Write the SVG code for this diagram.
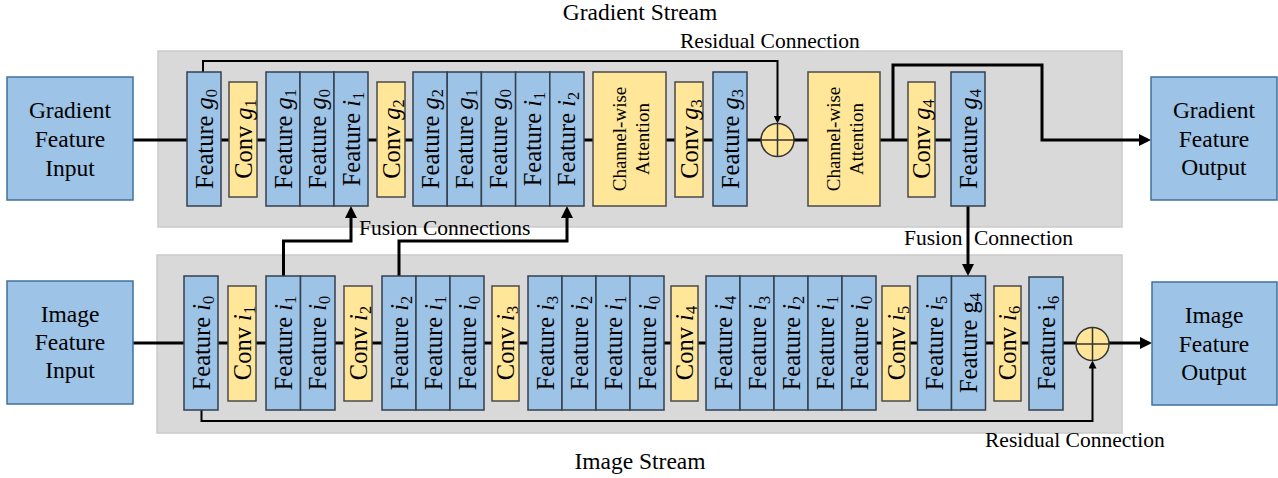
<svg xmlns="http://www.w3.org/2000/svg" width="1278" height="478" viewBox="0 0 1278 478">
  <style>
    text { font-family: "Liberation Serif", "Times New Roman", serif; fill: #000; }
    .panel { fill: #d9d9d9; stroke: #cacaca; stroke-width: 1.5; }
    .io { fill: #9dc3e6; stroke: #41719c; stroke-width: 1.5; }
    .feat { fill: #9dc3e6; stroke: #34404e; stroke-width: 1.5; }
    .conv { fill: #ffe699; stroke: #4a4a4a; stroke-width: 1.5; }
    .sum { fill: #ffe699; stroke: #333; stroke-width: 1.5; }
    .main { fill: none; stroke: #000; stroke-width: 3; }
    .res { fill: none; stroke: #000; stroke-width: 2; }
    .io-t { font-size: 23.5px; text-anchor: middle; }
    .lbl { font-size: 21.5px; }
    .stream { font-size: 23.5px; text-anchor: middle; }
    .bt { font-size: 24.5px; text-anchor: middle; }
    .ca { font-size: 19px; text-anchor: middle; }
    .it { font-style: italic; }
    .sub { font-size: 16.5px; }
  </style>
  <defs>
    <marker id="ah" viewBox="0 0 12 12" markerWidth="12" markerHeight="12" markerUnits="userSpaceOnUse" refX="2" refY="6" orient="auto">
      <path d="M0,0 L12,6 L0,12 z" fill="#000"/>
    </marker>
    <marker id="ahs" viewBox="0 0 8 8" markerWidth="8" markerHeight="8" markerUnits="userSpaceOnUse" refX="1" refY="4" orient="auto">
      <path d="M0,0 L8,4 L0,8 z" fill="#000"/>
    </marker>
  </defs>

  <!-- stream panels -->
  <g id="gradient-panel">
    <rect class="panel" x="158" y="51" width="964" height="176"/>
  </g>
  <g id="image-panel">
    <rect class="panel" x="157" y="255" width="965" height="178"/>
  </g>

  <!-- connectors -->
  <g id="connectors">
    <!-- gradient main path -->
    <path class="main" d="M133,140 H952"/>
    <path class="main" d="M893,140 V65 H1042 V140 H1141" marker-end="url(#ah)"/>
    <!-- gradient residual -->
    <path class="res" d="M203,72 V61 H777.5 V116.5" marker-end="url(#ahs)"/>
    <!-- image main path -->
    <path class="main" d="M133,343 H1142" marker-end="url(#ah)"/>
    <!-- image residual -->
    <path class="res" d="M201.5,410 V421 H1092.5 V367.5" marker-end="url(#ahs)"/>
    <!-- fusion connections -->
    <path class="main" d="M283.5,276 V241 H351 V216" marker-end="url(#ah)"/>
    <path class="main" d="M399,276 V241 H567 V216" marker-end="url(#ah)"/>
    <path class="main" d="M968,206 V266" marker-end="url(#ah)"/>
  </g>

  <!-- input / output nodes -->
  <g id="gradient-input">
    <rect class="io" x="7" y="77" width="126" height="123"/>
    <text class="io-t" x="70" y="118">Gradient</text>
    <text class="io-t" x="70" y="147">Feature</text>
    <text class="io-t" x="70" y="176">Input</text>
  </g>
  <g id="image-input">
    <rect class="io" x="7" y="281" width="126" height="123"/>
    <text class="io-t" x="70" y="322">Image</text>
    <text class="io-t" x="70" y="350">Feature</text>
    <text class="io-t" x="70" y="378">Input</text>
  </g>
  <g id="gradient-output">
    <rect class="io" x="1151" y="77" width="126" height="123"/>
    <text class="io-t" x="1214" y="118">Gradient</text>
    <text class="io-t" x="1214" y="147">Feature</text>
    <text class="io-t" x="1214" y="175">Output</text>
  </g>
  <g id="image-output">
    <rect class="io" x="1152" y="282" width="125" height="123"/>
    <text class="io-t" x="1214" y="323">Image</text>
    <text class="io-t" x="1214" y="352">Feature</text>
    <text class="io-t" x="1214" y="380">Output</text>
  </g>

  <!-- gradient stream blocks -->
  <g id="g-feat-g0">
    <rect class="feat" x="187" y="72" width="34" height="134"/>
    <text class="bt" transform="translate(204,139) rotate(-90)" y="8.5">Feature <tspan class="it">g</tspan><tspan class="sub" dy="4">0</tspan></text>
  </g>
  <g id="g-conv-g1">
    <rect class="conv" x="229" y="82" width="28" height="115"/>
    <text class="bt" transform="translate(243,139) rotate(-90)" y="8.5">Conv <tspan class="it">g</tspan><tspan class="sub" dy="4">1</tspan></text>
  </g>
  <g id="g-concat-1">
    <rect class="feat" x="266" y="72" width="34" height="134"/>
    <text class="bt" transform="translate(283,139) rotate(-90)" y="8.5">Feature <tspan class="it">g</tspan><tspan class="sub" dy="4">1</tspan></text>
    <rect class="feat" x="300" y="72" width="34" height="134"/>
    <text class="bt" transform="translate(317,139) rotate(-90)" y="8.5">Feature <tspan class="it">g</tspan><tspan class="sub" dy="4">0</tspan></text>
    <rect class="feat" x="334" y="72" width="34" height="134"/>
    <text class="bt" transform="translate(351,139) rotate(-90)" y="8.5">Feature <tspan class="it">i</tspan><tspan class="sub" dy="4">1</tspan></text>
  </g>
  <g id="g-conv-g2">
    <rect class="conv" x="377" y="82" width="28" height="115"/>
    <text class="bt" transform="translate(391,139) rotate(-90)" y="8.5">Conv <tspan class="it">g</tspan><tspan class="sub" dy="4">2</tspan></text>
  </g>
  <g id="g-concat-2">
    <rect class="feat" x="413" y="72" width="34.2" height="134"/>
    <text class="bt" transform="translate(430.1,139) rotate(-90)" y="8.5">Feature <tspan class="it">g</tspan><tspan class="sub" dy="4">2</tspan></text>
    <rect class="feat" x="447.2" y="72" width="34.2" height="134"/>
    <text class="bt" transform="translate(464.3,139) rotate(-90)" y="8.5">Feature <tspan class="it">g</tspan><tspan class="sub" dy="4">1</tspan></text>
    <rect class="feat" x="481.4" y="72" width="34.2" height="134"/>
    <text class="bt" transform="translate(498.5,139) rotate(-90)" y="8.5">Feature <tspan class="it">g</tspan><tspan class="sub" dy="4">0</tspan></text>
    <rect class="feat" x="515.6" y="72" width="34.2" height="134"/>
    <text class="bt" transform="translate(532.7,139) rotate(-90)" y="8.5">Feature <tspan class="it">i</tspan><tspan class="sub" dy="4">1</tspan></text>
    <rect class="feat" x="549.8" y="72" width="34.2" height="134"/>
    <text class="bt" transform="translate(566.9,139) rotate(-90)" y="8.5">Feature <tspan class="it">i</tspan><tspan class="sub" dy="4">2</tspan></text>
  </g>
  <g id="g-attention-1">
    <rect class="conv" x="593" y="72" width="73" height="134"/>
    <text class="ca" transform="translate(629.5,139) rotate(-90)" y="-4">Channel-wise</text>
    <text class="ca" transform="translate(629.5,139) rotate(-90)" y="19">Attention</text>
  </g>
  <g id="g-conv-g3">
    <rect class="conv" x="675" y="82" width="28" height="115"/>
    <text class="bt" transform="translate(689,139) rotate(-90)" y="8.5">Conv <tspan class="it">g</tspan><tspan class="sub" dy="4">3</tspan></text>
  </g>
  <g id="g-feat-g3">
    <rect class="feat" x="713" y="72" width="34" height="134"/>
    <text class="bt" transform="translate(730,139) rotate(-90)" y="8.5">Feature <tspan class="it">g</tspan><tspan class="sub" dy="4">3</tspan></text>
  </g>
  <g id="g-sum">
    <circle class="sum" cx="777.5" cy="140" r="16.5"/>
    <path d="M761,140 H794 M777.5,123.5 V156.5" stroke="#333" stroke-width="1.5"/>
  </g>
  <g id="g-attention-2">
    <rect class="conv" x="808" y="72" width="72" height="134"/>
    <text class="ca" transform="translate(844,139) rotate(-90)" y="-4">Channel-wise</text>
    <text class="ca" transform="translate(844,139) rotate(-90)" y="19">Attention</text>
  </g>
  <g id="g-conv-g4">
    <rect class="conv" x="908" y="82" width="27" height="115"/>
    <text class="bt" transform="translate(921.5,139) rotate(-90)" y="8.5">Conv <tspan class="it">g</tspan><tspan class="sub" dy="4">4</tspan></text>
  </g>
  <g id="g-feat-g4">
    <rect class="feat" x="951" y="72" width="34" height="134"/>
    <text class="bt" transform="translate(968,139) rotate(-90)" y="8.5">Feature <tspan class="it">g</tspan><tspan class="sub" dy="4">4</tspan></text>
  </g>

  <!-- image stream blocks -->
  <g id="i-feat-i0">
    <rect class="feat" x="184" y="276" width="34" height="134"/>
    <text class="bt" transform="translate(201,343) rotate(-90)" y="8.5">Feature <tspan class="it">i</tspan><tspan class="sub" dy="4">0</tspan></text>
  </g>
  <g id="i-conv-i1">
    <rect class="conv" x="228" y="286" width="28" height="115"/>
    <text class="bt" transform="translate(242,343) rotate(-90)" y="8.5">Conv <tspan class="it">i</tspan><tspan class="sub" dy="4">1</tspan></text>
  </g>
  <g id="i-concat-1">
    <rect class="feat" x="266" y="276" width="34.5" height="134"/>
    <text class="bt" transform="translate(283.3,343) rotate(-90)" y="8.5">Feature <tspan class="it">i</tspan><tspan class="sub" dy="4">1</tspan></text>
    <rect class="feat" x="300.5" y="276" width="34.5" height="134"/>
    <text class="bt" transform="translate(317.8,343) rotate(-90)" y="8.5">Feature <tspan class="it">i</tspan><tspan class="sub" dy="4">0</tspan></text>
  </g>
  <g id="i-conv-i2">
    <rect class="conv" x="344" y="286" width="28" height="115"/>
    <text class="bt" transform="translate(358,343) rotate(-90)" y="8.5">Conv <tspan class="it">i</tspan><tspan class="sub" dy="4">2</tspan></text>
  </g>
  <g id="i-concat-2">
    <rect class="feat" x="382" y="276" width="34" height="134"/>
    <text class="bt" transform="translate(399,343) rotate(-90)" y="8.5">Feature <tspan class="it">i</tspan><tspan class="sub" dy="4">2</tspan></text>
    <rect class="feat" x="416" y="276" width="34" height="134"/>
    <text class="bt" transform="translate(433,343) rotate(-90)" y="8.5">Feature <tspan class="it">i</tspan><tspan class="sub" dy="4">1</tspan></text>
    <rect class="feat" x="450" y="276" width="34" height="134"/>
    <text class="bt" transform="translate(467,343) rotate(-90)" y="8.5">Feature <tspan class="it">i</tspan><tspan class="sub" dy="4">0</tspan></text>
  </g>
  <g id="i-conv-i3">
    <rect class="conv" x="492" y="286" width="27" height="115"/>
    <text class="bt" transform="translate(505.5,343) rotate(-90)" y="8.5">Conv <tspan class="it">i</tspan><tspan class="sub" dy="4">3</tspan></text>
  </g>
  <g id="i-concat-3">
    <rect class="feat" x="528" y="276" width="34" height="134"/>
    <text class="bt" transform="translate(545,343) rotate(-90)" y="8.5">Feature <tspan class="it">i</tspan><tspan class="sub" dy="4">3</tspan></text>
    <rect class="feat" x="562" y="276" width="34" height="134"/>
    <text class="bt" transform="translate(579,343) rotate(-90)" y="8.5">Feature <tspan class="it">i</tspan><tspan class="sub" dy="4">2</tspan></text>
    <rect class="feat" x="596" y="276" width="34" height="134"/>
    <text class="bt" transform="translate(613,343) rotate(-90)" y="8.5">Feature <tspan class="it">i</tspan><tspan class="sub" dy="4">1</tspan></text>
    <rect class="feat" x="630" y="276" width="34" height="134"/>
    <text class="bt" transform="translate(647,343) rotate(-90)" y="8.5">Feature <tspan class="it">i</tspan><tspan class="sub" dy="4">0</tspan></text>
  </g>
  <g id="i-conv-i4">
    <rect class="conv" x="671" y="286" width="27" height="115"/>
    <text class="bt" transform="translate(684.5,343) rotate(-90)" y="8.5">Conv <tspan class="it">i</tspan><tspan class="sub" dy="4">4</tspan></text>
  </g>
  <g id="i-concat-4">
    <rect class="feat" x="706" y="276" width="34" height="134"/>
    <text class="bt" transform="translate(723,343) rotate(-90)" y="8.5">Feature <tspan class="it">i</tspan><tspan class="sub" dy="4">4</tspan></text>
    <rect class="feat" x="740" y="276" width="34" height="134"/>
    <text class="bt" transform="translate(757,343) rotate(-90)" y="8.5">Feature <tspan class="it">i</tspan><tspan class="sub" dy="4">3</tspan></text>
    <rect class="feat" x="774" y="276" width="34" height="134"/>
    <text class="bt" transform="translate(791,343) rotate(-90)" y="8.5">Feature <tspan class="it">i</tspan><tspan class="sub" dy="4">2</tspan></text>
    <rect class="feat" x="808" y="276" width="34" height="134"/>
    <text class="bt" transform="translate(825,343) rotate(-90)" y="8.5">Feature <tspan class="it">i</tspan><tspan class="sub" dy="4">1</tspan></text>
    <rect class="feat" x="842" y="276" width="34" height="134"/>
    <text class="bt" transform="translate(859,343) rotate(-90)" y="8.5">Feature <tspan class="it">i</tspan><tspan class="sub" dy="4">0</tspan></text>
  </g>
  <g id="i-conv-i5">
    <rect class="conv" x="882" y="286" width="28" height="115"/>
    <text class="bt" transform="translate(896,343) rotate(-90)" y="8.5">Conv <tspan class="it">i</tspan><tspan class="sub" dy="4">5</tspan></text>
  </g>
  <g id="i-concat-5">
    <rect class="feat" x="917.5" y="276" width="34" height="134"/>
    <text class="bt" transform="translate(934.5,343) rotate(-90)" y="8.5">Feature <tspan class="it">i</tspan><tspan class="sub" dy="4">5</tspan></text>
    <rect class="feat" x="951.5" y="276" width="34" height="134"/>
    <text class="bt" transform="translate(968.5,343) rotate(-90)" y="8.5">Feature g<tspan class="sub" dy="4">4</tspan></text>
  </g>
  <g id="i-conv-i6">
    <rect class="conv" x="994" y="286" width="27" height="115"/>
    <text class="bt" transform="translate(1007.5,343) rotate(-90)" y="8.5">Conv <tspan class="it">i</tspan><tspan class="sub" dy="4">6</tspan></text>
  </g>
  <g id="i-feat-i6">
    <rect class="feat" x="1029" y="277" width="34" height="133"/>
    <text class="bt" transform="translate(1046,343) rotate(-90)" y="8.5">Feature i<tspan class="sub" dy="4">6</tspan></text>
  </g>
  <g id="i-sum">
    <circle class="sum" cx="1092.5" cy="344" r="16.5"/>
    <path d="M1076,344 H1109 M1092.5,327.5 V360.5" stroke="#333" stroke-width="1.5"/>
  </g>

  <!-- labels -->
  <g id="labels">
    <text class="stream" x="640" y="20">Gradient Stream</text>
    <text class="stream" x="640" y="469">Image Stream</text>
    <text class="lbl" x="680" y="48">Residual Connection</text>
    <text class="lbl" x="359" y="235">Fusion Connections</text>
    <text class="lbl" x="904" y="245">Fusion</text>
    <text class="lbl" x="974" y="245">Connection</text>
    <text class="lbl" x="985" y="447">Residual Connection</text>
  </g>
</svg>
